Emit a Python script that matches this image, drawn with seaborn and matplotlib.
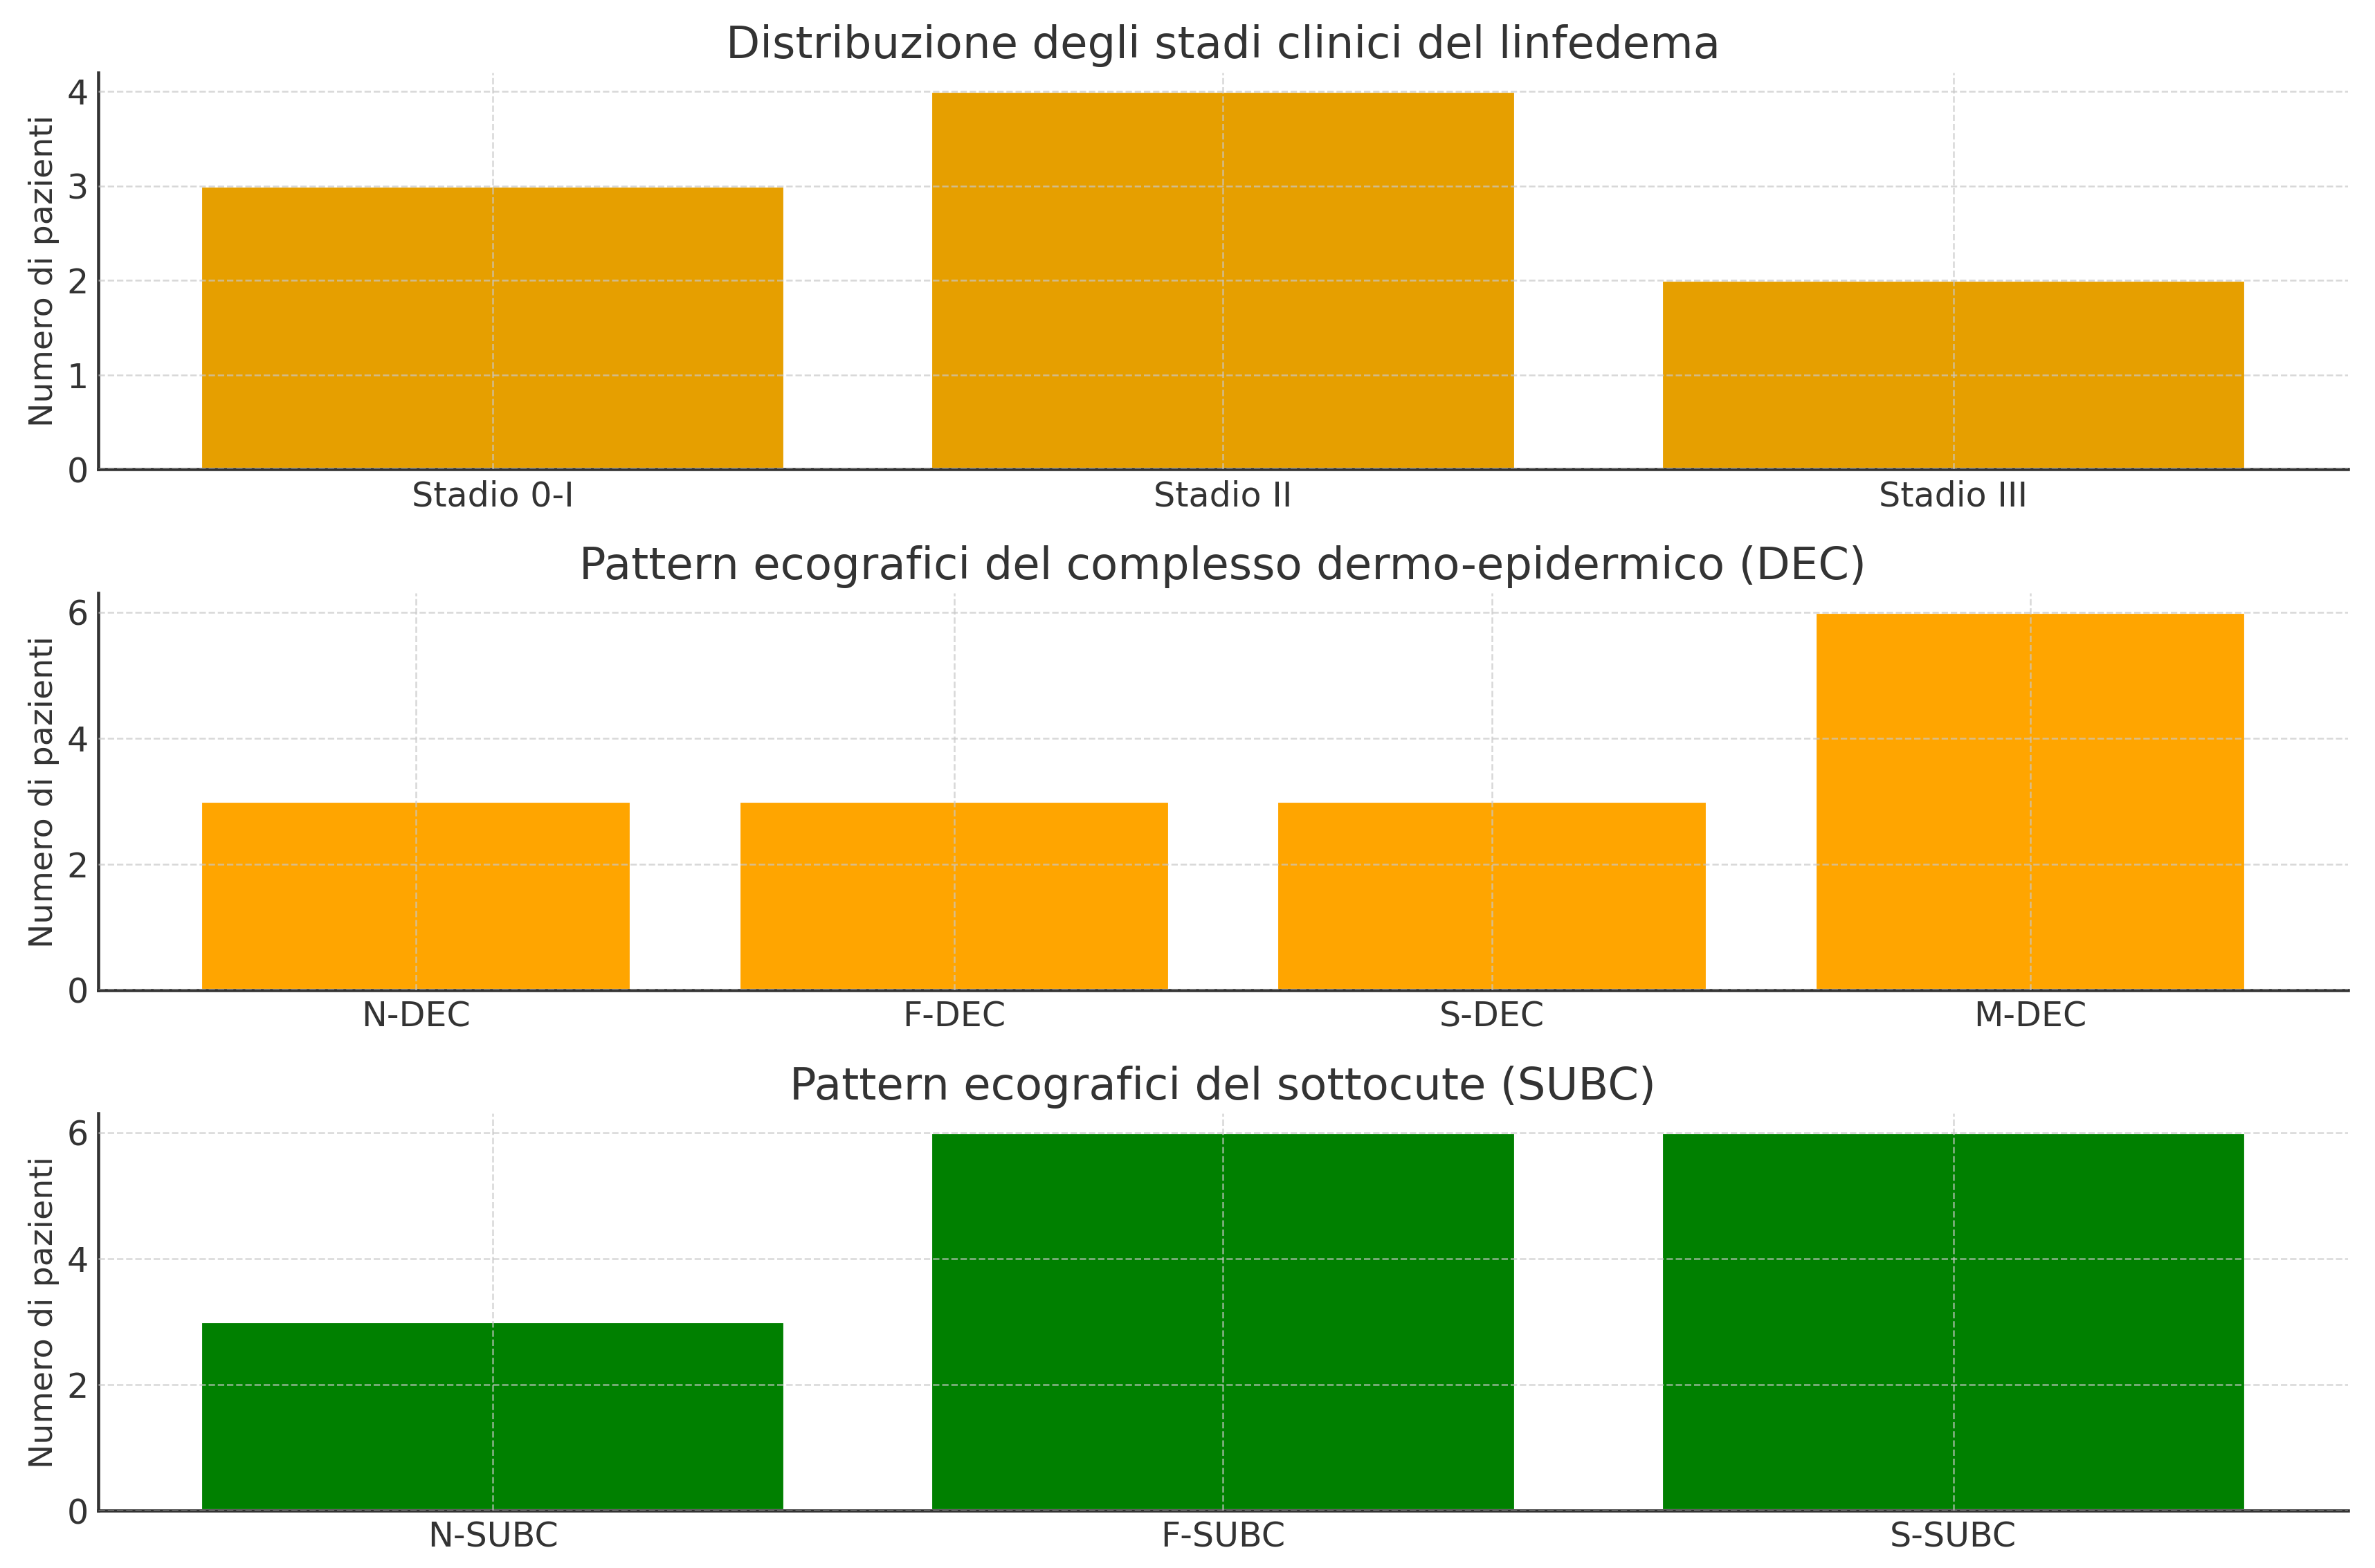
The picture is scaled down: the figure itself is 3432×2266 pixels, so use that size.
import matplotlib
matplotlib.use("Agg")
import matplotlib.pyplot as plt
import seaborn as sns
from matplotlib.ticker import MultipleLocator

# Data
stadi_labels = ["Stadio 0-I", "Stadio II", "Stadio III"]
stadi_values = [3, 4, 2]

dec_labels = ["N-DEC", "F-DEC", "S-DEC", "M-DEC"]
dec_values = [3, 3, 3, 6]

subc_labels = ["N-SUBC", "F-SUBC", "S-SUBC"]
subc_values = [3, 6, 6]

panels = [
    ("Distribuzione degli stadi clinici del linfedema", stadi_labels, stadi_values, "#E69F00", 1),
    ("Pattern ecografici del complesso dermo-epidermico (DEC)", dec_labels, dec_values, "#FFA500", 2),
    ("Pattern ecografici del sottocute (SUBC)", subc_labels, subc_values, "#008000", 2),
]

sns.set_style("white")
plt.rcParams["font.family"] = ["DejaVu Sans"]
text_color = "#333333"

fig, axes = plt.subplots(nrows=3, ncols=1, figsize=(11.44, 7.554), dpi=300)
fig.subplots_adjust(left=0.0415, right=0.9885, top=0.9536, bottom=0.0367, hspace=0.312)

for ax, (title, labels, values, color, step) in zip(axes, panels):
    sns.barplot(x=labels, y=values, color=color, saturation=1, width=0.8, ax=ax)

    n = len(labels)
    # default matplotlib margins around the bars
    ax.set_xlim(-0.4 - 0.05 * (n - 0.2), n - 0.6 + 0.05 * (n - 0.2))
    ax.set_ylim(0, max(values) * 1.05)
    ax.yaxis.set_major_locator(MultipleLocator(step))

    ax.set_title(title, fontsize=15.4, color=text_color, pad=5)
    ax.set_ylabel("Numero di pazienti", fontsize=11.4, color=text_color, labelpad=2.5)
    ax.set_xlabel("")
    ax.tick_params(axis="both", direction="in", labelsize=11.8, colors=text_color,
                   length=3.5, width=1, pad=3.5)

    # dashed grid drawn over the bars
    ax.set_axisbelow(False)
    ax.grid(True, linestyle="--", color="#c8c8c8", linewidth=0.6, alpha=0.7)

    sns.despine(ax=ax)
    for side in ["left", "bottom"]:
        ax.spines[side].set_color("#333333")
        ax.spines[side].set_linewidth(1.1)

plt.savefig("out.png", dpi=300)
